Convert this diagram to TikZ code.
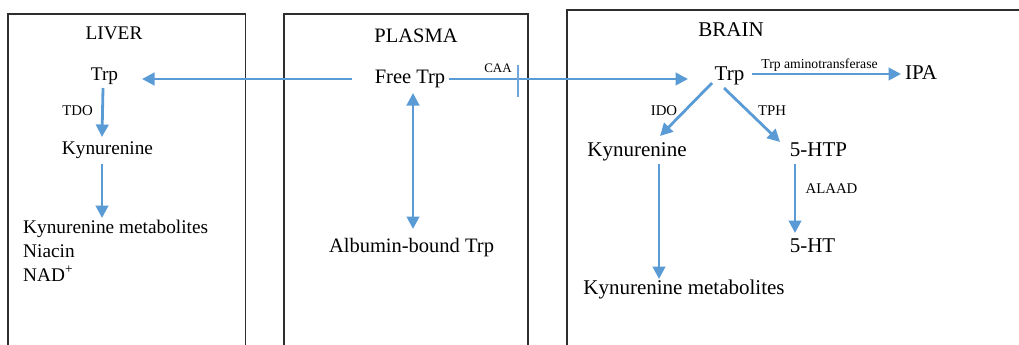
\documentclass[tikz,border=0pt]{standalone}
\usepackage{fontspec}
\setmainfont{Liberation Serif}
\usetikzlibrary{arrows.meta}
\definecolor{arrblue}{HTML}{5B9BD5}
\definecolor{tickblue}{HTML}{6FA7DD}
\definecolor{boxgray}{HTML}{2E2E2E}
\tikzset{
  arr/.style={draw=arrblue,line width=2.8pt,-{Triangle[length=12.5pt,width=12.5pt]}},
  dblarr/.style={draw=arrblue,line width=2.8pt,{Triangle[length=12.5pt,width=12.5pt]}-{Triangle[length=12.5pt,width=12.5pt]}},
  tick/.style={draw=tickblue,line width=1.3pt},
  comp/.style={draw=boxgray,line width=1.3pt},
  txt/.style={inner sep=0pt,anchor=base},
  lvr/.style={txt,font=\fontsize{19.3}{23}\selectfont},
  pls/.style={txt,font=\fontsize{20.5}{24}\selectfont},
  brn/.style={txt,font=\fontsize{21}{25}\selectfont},
  enz/.style={txt,font=\fontsize{14.8}{17}\selectfont},
}
\begin{document}
\begin{tikzpicture}[x=1pt,y=-1pt]
\useasboundingbox (0,0) rectangle (1019,345);
\clip (0,0) rectangle (1019,345);
% compartments
\draw[comp] (8,360) -- (8,14) -- (245.5,14) -- (245.5,360);
\draw[comp] (284,360) -- (284,14) -- (528,14) -- (528,360);
\draw[comp] (567,360) -- (567,10) -- (1030,10);
% liver
\node[lvr] (liver) at (114,40) {LIVER};
\node[lvr] (ltrp) at (104.5,80) {Trp};
\node[enz] (tdo) at (77.5,115) {TDO};
\node[lvr] (lkyn) at (107.5,154) {Kynurenine};
\node[lvr,anchor=base west] (lmet) at (23,233) {Kynurenine metabolites};
\node[lvr,anchor=base west] (niacin) at (23,257) {Niacin};
\node[lvr,anchor=base west] (nad) at (23,281) {NAD\textsuperscript{+}};
% plasma
\node[pls] (plasma) at (416,42) {PLASMA};
\node[pls] (ftrp) at (410,83) {Free Trp};
\node[txt,font=\fontsize{13}{15}\selectfont] (caa) at (498,73) {CAA};
\node[pls] (alb) at (411.5,252) {Albumin-bound Trp};
% brain
\node[brn] (brain) at (731,37) {BRAIN};
\node[brn] (btrp) at (729.5,80) {Trp};
\node[txt,font=\fontsize{13.7}{16}\selectfont] (tat) at (819.5,69) {Trp aminotransferase};
\node[brn] (ipa) at (921,79) {IPA};
\node[enz] (ido) at (664,115) {IDO};
\node[enz] (tph) at (772,115) {TPH};
\node[brn] (bkyn) at (637,156) {Kynurenine};
\node[brn] (htp) at (818.5,156) {5-HTP};
\node[enz] (alaad) at (831.5,193) {ALAAD};
\node[brn] (ht) at (812.5,252) {5-HT};
\node[brn] (bmet) at (684,294) {Kynurenine metabolites};
% connector end points
\coordinate (ftrpW) at (352,79);
\coordinate (ltrpE) at (142,79);
\coordinate (ftrpE) at (449,79);
\coordinate (btrpW) at (688,79);
\coordinate (ftrpS) at (413,93);
\coordinate (albN) at (413,229);
\coordinate (ltrpS) at (103,88);
\coordinate (lkynN) at (102,137);
\coordinate (lkynS) at (102,164);
\coordinate (lmetN) at (102,218);
\coordinate (btrpE) at (752,74);
\coordinate (ipaW) at (901,74);
\coordinate (btrpSW) at (712,83);
\coordinate (bkynNE) at (660,136);
\coordinate (btrpSE) at (724,88);
\coordinate (htpNW) at (780,142);
\coordinate (htpS) at (795,164);
\coordinate (htN) at (795,233);
\coordinate (bkynS) at (659,164);
\coordinate (bmetN) at (659,279);
\coordinate (caaT) at (518,65);
\coordinate (caaB) at (518,97);
% connectors
\draw[arr] (ftrpW) -- (ltrpE);
\draw[arr] (ftrpE) -- (btrpW);
\draw[tick] (caaT) -- (caaB);
\draw[dblarr] (ftrpS) -- (albN);
\draw[arr] (ltrpS) -- (lkynN);
\draw[arr] (lkynS) -- (lmetN);
\draw[arr] (btrpE) -- (ipaW);
\draw[arr] (btrpSW) -- (bkynNE);
\draw[arr] (btrpSE) -- (htpNW);
\draw[arr] (htpS) -- (htN);
\draw[arr] (bkynS) -- (bmetN);
\end{tikzpicture}
\end{document}
